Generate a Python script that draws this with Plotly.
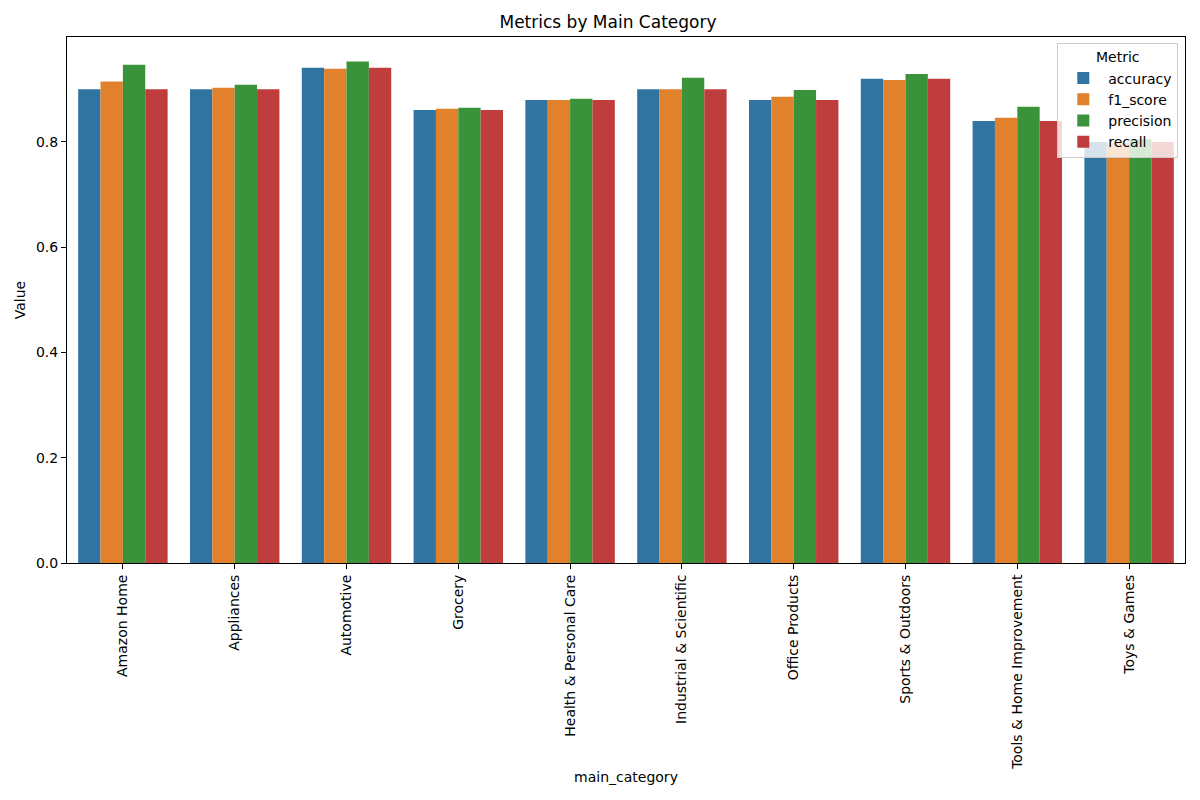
import plotly.graph_objects as go

categories = ["Amazon Home", "Appliances", "Automotive", "Grocery",
              "Health & Personal Care", "Industrial & Scientific",
              "Office Products", "Sports & Outdoors",
              "Tools & Home Improvement", "Toys & Games"]

accuracy = [0.900, 0.900, 0.941, 0.861, 0.880, 0.900, 0.880, 0.920, 0.840, 0.800]
f1_score = [0.915, 0.903, 0.939, 0.863, 0.880, 0.900, 0.886, 0.918, 0.846, 0.798]
precision = [0.947, 0.909, 0.953, 0.865, 0.882, 0.922, 0.899, 0.929, 0.867, 0.805]
recall = [0.900, 0.900, 0.941, 0.861, 0.880, 0.900, 0.880, 0.920, 0.840, 0.800]

metrics = ["accuracy", "f1_score", "precision", "recall"]
series = [accuracy, f1_score, precision, recall]
colors = ["#3274a1", "#e1812c", "#3a923a", "#c03d3e"]

fig = go.Figure()
for name, vals, col in zip(metrics, series, colors):
    fig.add_trace(go.Bar(x=categories, y=vals, name=name, marker_color=col,
                         marker_line_width=0))

axis_style = dict(showline=True, linecolor="black", linewidth=1, mirror=True,
                  ticks="outside", ticklen=5, tickcolor="black", showgrid=False,
                  zeroline=False, automargin=False,
                  tickfont=dict(size=14, color="black"))

# page body adds 8px offset, so margins are trimmed to land the axes where the reference has them
fig.update_layout(
    width=1200, height=800,
    font=dict(family="DejaVu Sans", size=14, color="black"),
    barmode="group", bargap=0.2, bargroupgap=0,
    margin=dict(l=59, r=23, t=29, b=245),
    plot_bgcolor="white", paper_bgcolor="white",
    title=dict(text="Metrics by Main Category", x=0.5, xanchor="center",
               y=0.982, yanchor="middle", font=dict(size=17)),
    legend=dict(title=dict(text="Metric", side="top center", font=dict(size=14)),
                x=0.994, xanchor="right", y=0.988, yanchor="top",
                bordercolor="#cccccc", borderwidth=1,
                bgcolor="rgba(255,255,255,0.8)", font=dict(size=14),
                itemwidth=40),
)
fig.update_xaxes(axis_style, tickangle=-90, range=[-0.5, 9.5],
                 title=dict(text="main_category", font=dict(size=14), standoff=3))
fig.update_yaxes(axis_style, range=[0, 0.9995], dtick=0.2, tickformat=".1f",
                 title=dict(text="Value", font=dict(size=14), standoff=7))

fig.write_html("out.html")
